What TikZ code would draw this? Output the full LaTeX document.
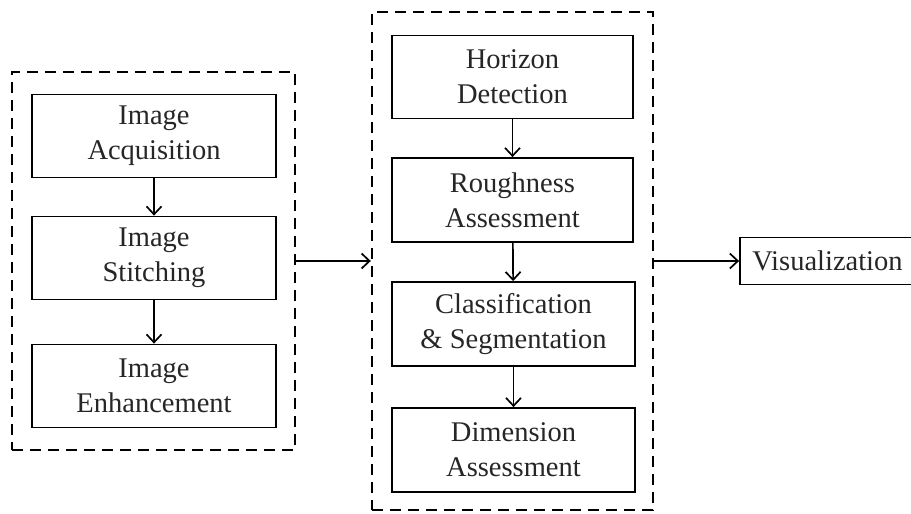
\documentclass[tikz,border=0pt]{standalone}
\usepackage{fontspec}
\setmainfont{Liberation Serif}
\usetikzlibrary{arrows.meta}
\begin{document}
\begin{tikzpicture}[x=1pt,y=-1pt,
    stage/.style={draw, line width=1.8pt, minimum width=244pt, minimum height=83pt,
      align=center, inner sep=0pt, text=black!85, font=\rmfamily\fontsize{28.5}{35}\selectfont},
    group/.style={draw, line width=2.4pt, dash pattern=on 11pt off 7pt, inner sep=0pt},
    flow/.style={line width=1.7pt, -{Straight Barb[length=8pt,width=15pt]}}]
    \useasboundingbox (0,0) rectangle (911,514);
    % dashed groups
    \node[group, minimum width=283pt, minimum height=378pt] (prep) at (153.5,261) {};
    \node[group, minimum width=281pt, minimum height=498pt] (analysis) at (512.5,261) {};
    % left column
    \node[stage] (acq) at (154,136) {Image\\Acquisition};
    \node[stage] (stitch) at (154,258) {Image\\Stitching};
    \node[stage] (enh) at (154,386) {Image\\Enhancement};
    % middle column
    \node[stage, minimum width=241pt, minimum height=83pt] (horizon) at (512.5,77) {Horizon\\Detection};
    \node[stage, minimum width=241pt, minimum height=84pt] (rough) at (512.5,200) {Roughness\\Assessment};
    \node[stage, minimum width=243pt, minimum height=84pt] (classif) at (513.5,324) {Classification\\\& Segmentation};
    \node[stage, minimum width=243pt, minimum height=84pt] (dimen) at (513.5,450) {Dimension\\Assessment};
    % output
    \node[stage, minimum width=175pt, minimum height=47pt] (visual) at (827.5,261) {Visualization};
    \draw[flow] (acq) -- (stitch);
    \draw[flow] (stitch) -- (enh);
    \draw[flow] (horizon) -- (rough);
    \draw[flow] (rough) -- (classif);
    \draw[flow] (classif) -- (dimen);
    \draw[flow] (prep.east) -- (analysis.west);
    \draw[flow] (analysis.east) -- (visual.west);
\end{tikzpicture}
\end{document}
